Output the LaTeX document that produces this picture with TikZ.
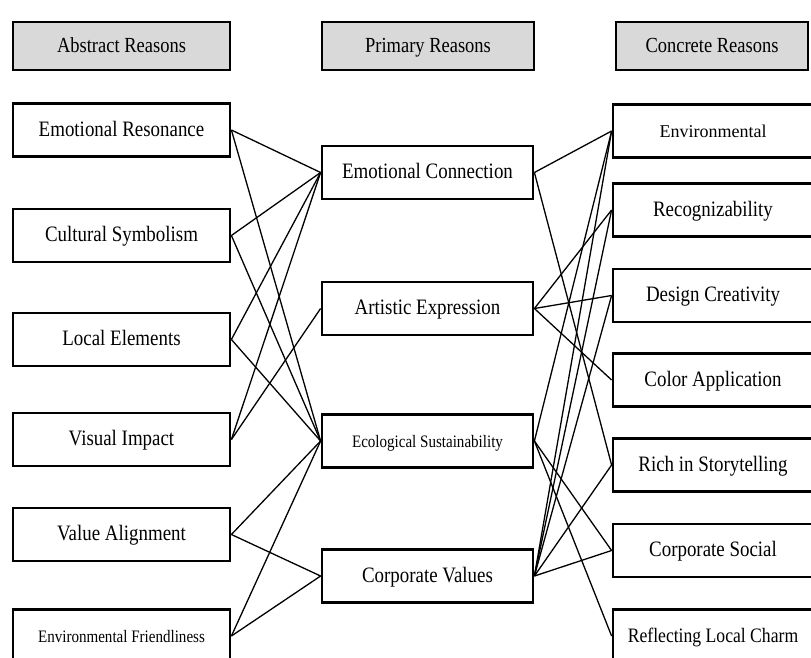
\documentclass[tikz,border=0pt]{standalone}
\usepackage{fontspec}
\setmainfont{Liberation Serif}[FakeStretch=0.86]
\newfontfamily\wideserif{Liberation Serif}[FakeStretch=1.0]
\usetikzlibrary{positioning}

\begin{document}
\begin{tikzpicture}[
  x=1pt,y=-1pt,
  head/.style={draw, fill=black!15, line width=2.8pt, minimum height=48pt, font=\fontsize{21.5}{24}\selectfont, inner sep=0pt, text height=16pt, text depth=4pt},
  reason/.style={draw, fill=white, line width=2.8pt, minimum height=53pt, font=\fontsize{22}{24}\selectfont, inner sep=0pt, text height=16pt, text depth=4pt},
  absr/.style={reason, minimum width=217pt},
  prim/.style={reason, minimum width=211pt},
  conc/.style={reason, minimum width=200pt},
  small/.style={font=\fontsize{17.5}{20}\selectfont},
  link/.style={line width=1.3pt}
]
\useasboundingbox (0,0) rectangle (811,657);
\clip (0,0) rectangle (811,657);
% column headers
\node[head, minimum width=217pt] (hA) at (121.5,46) {Abstract Reasons};
\node[head, minimum width=212pt] (hP) at (428,46) {Primary Reasons};
\node[head, minimum width=192pt] (hC) at (712,46) {Concrete Reasons};
% abstract reasons
\node[absr] (ER) at (121.5,130) {Emotional Resonance};
\node[absr] (CS) at (121.5,235.5) {Cultural Symbolism};
\node[absr] (LE) at (121.5,339.5) {Local Elements};
\node[absr] (VI) at (121.5,439.5) {Visual Impact};
\node[absr] (VA) at (121.5,534.5) {Value Alignment};
\node[absr, small] (EF) at (121.5,636) {Environmental Friendliness};
% primary reasons
\node[prim] (EC) at (427.5,172.5) {Emotional Connection};
\node[prim] (AE) at (427.5,308.5) {Artistic Expression};
\node[prim, small] (ES) at (427.5,441) {Ecological Sustainability};
\node[prim] (CV) at (427.5,576) {Corporate Values};
% concrete reasons
\node[conc, font=\wideserif\fontsize{18}{20}\selectfont] (Env) at (713,131) {Environmental};
\node[conc] (Rec) at (713,210) {Recognizability};
\node[conc] (DC) at (713,295.5) {Design Creativity};
\node[conc] (CA) at (713,380) {Color Application};
\node[conc] (RS) at (713,465) {Rich in Storytelling};
\node[conc] (CSo) at (713,550.5) {Corporate Social};
\node[conc, font=\fontsize{20.5}{24}\selectfont] (RLC) at (713,636) {Reflecting Local Charm};
% abstract -> primary
\foreach \a/\p in {ER/EC, ER/ES, CS/EC, CS/ES, LE/EC, LE/ES, VI/EC, VI/AE, VA/ES, VA/CV, EF/ES, EF/CV}
  \draw[link] (\a.east) -- (\p.west);
% primary -> concrete
\foreach \p/\c in {EC/Env, EC/RS, AE/Rec, AE/DC, AE/CA, ES/Env, ES/CSo, ES/RLC, CV/Env, CV/Rec, CV/DC, CV/RS, CV/CSo}
  \draw[link] (\p.east) -- (\c.west);
\end{tikzpicture}
\end{document}
